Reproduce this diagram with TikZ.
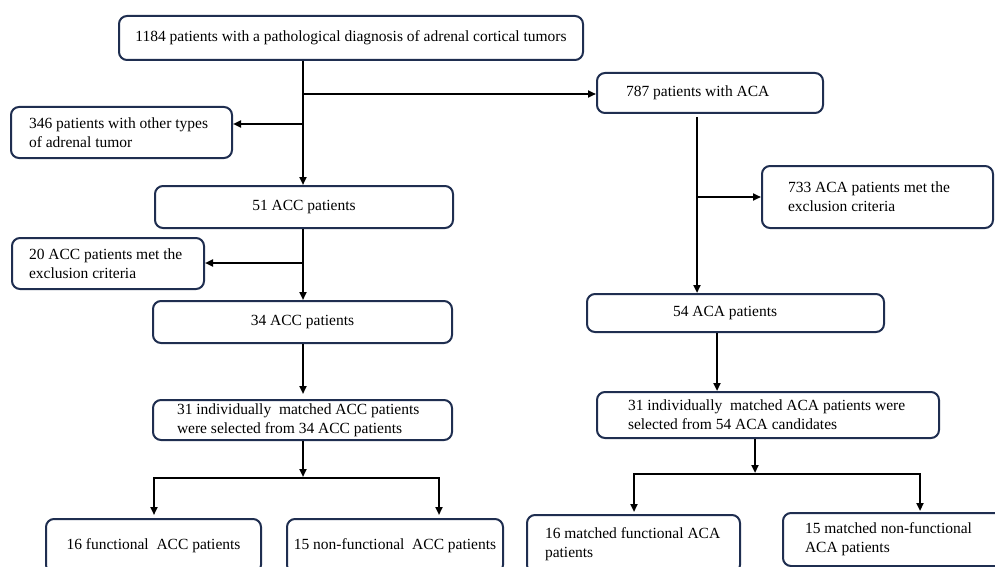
\documentclass[tikz,border=0pt]{standalone}
\usepackage{fontspec}
\setmainfont{Liberation Serif}
\usetikzlibrary{arrows.meta}
\definecolor{boxblue}{RGB}{31,46,80}
\begin{document}
\begin{tikzpicture}[x=1pt,y=-1pt,
  box/.style={draw=boxblue, line width=2pt, rounded corners=8pt, fill=white,
    inner ysep=0pt, font=\fontsize{15.5}{19}\selectfont},
  cbox/.style={box, align=center, inner xsep=0pt},
  lbox/.style={box, align=left, execute at begin node={\spaceskip=0pt\xspaceskip=0pt\relax}},
  arr/.style={line width=2pt, -{Triangle[length=8pt,width=7pt]}},
  ln/.style={line width=2pt}]
\useasboundingbox (0,0) rectangle (995,567);
\clip (0,0) rectangle (995,567);

% nodes
\node[cbox, minimum width=464, minimum height=44] (top) at (351,38)
  {1184 patients with a pathological diagnosis of adrenal cortical tumors};
\node[lbox, minimum width=221, minimum height=51, inner xsep=18, text width=185] (b346) at (121.5,132.5)
  {346 patients with other types\\of adrenal tumor};
\node[lbox, minimum width=226, minimum height=40, inner xsep=29, text width=168] (b787) at (710,93)
  {787 patients with ACA};
\node[cbox, minimum width=298, minimum height=42] (b51) at (304,207) {51 ACC patients};
\node[lbox, minimum width=192, minimum height=51, inner xsep=17, text width=158] (b20) at (108,263.5)
  {20 ACC patients met the\\exclusion criteria};
\node[lbox, minimum width=231, minimum height=62, inner xsep=26, text width=179] (b733) at (877.5,197)
  {733 ACA patients met the\\exclusion criteria};
\node[cbox, minimum width=299, minimum height=42] (b34) at (302.5,322) {34 ACC patients};
\node[lbox, minimum width=297, minimum height=38, inner xsep=86, text width=125] (b54) at (735.5,313)
  {54 ACA patients};
\node[lbox, minimum width=299, minimum height=40, inner xsep=24, text width=251] (b31acc) at (302.5,420)
  {31 individually\ \ matched ACC patients\\were selected from 34 ACC patients};
\node[lbox, minimum width=342, minimum height=46, inner xsep=31, text width=280] (b31aca) at (768,415)
  {31 individually\ \ matched ACA patients were\\selected from 54 ACA candidates};
\node[cbox, minimum width=215, minimum height=54] (b16acc) at (153.5,546) {16 functional\ \ ACC patients};
\node[cbox, minimum width=216, minimum height=54] (b15acc) at (395,546) {15 non-functional\ \ ACC patients};
\node[lbox, minimum width=213, minimum height=58, inner xsep=18, text width=177] (b16aca) at (633.5,544)
  {16 matched functional ACA\\patients};
\node[lbox, minimum width=235, minimum height=53, inner xsep=22, text width=191] (b15aca) at (900.5,539.5)
  {15 matched non-functional\\ACA patients};

% left (ACC) branch
\coordinate (jL1) at (303,94);
\coordinate (jL2) at (303,124);
\coordinate (jL3) at (303,263);
\draw[arr] (top.south -| jL1) -- (b51.north -| jL1);
\draw[arr] (jL1) -- (b787.west |- jL1);
\draw[arr] (jL2) -- (b346.east |- jL2);
\draw[arr] (b51.south -| jL3) -- (b34.north -| jL3);
\draw[arr] (jL3) -- (b20.east |- jL3);
\draw[arr, shorten >=5pt] (b34.south -| jL3) -- (b31acc.north -| jL3);

\coordinate (sL) at (303,478);
\coordinate (sLa) at (154,478);
\coordinate (sLb) at (439,478);
\draw[arr, shorten >=1pt] (b31acc.south -| sL) -- (sL);
\draw[arr, shorten >=3pt] (sL) -| (sLa |- b16acc.north);
\draw[arr, shorten >=3pt] (sL) -| (sLb |- b15acc.north);

% right (ACA) branch
\coordinate (jR) at (697,197);
\coordinate (jR2) at (717,0);
\draw[arr, shorten <=3pt] (b787.south -| jR) -- (b54.north -| jR);
\draw[arr] (jR) -- (b733.west |- jR);
\draw[arr] (b54.south -| jR2) -- (b31aca.north -| jR2);

\coordinate (sR) at (755,474);
\coordinate (sRa) at (634,474);
\coordinate (sRb) at (920,474);
\draw[arr, shorten >=1pt] (b31aca.south -| sR) -- (sR);
\draw[arr, shorten >=2pt] (sR) -| (sRa |- b16aca.north);
\draw[arr, shorten >=1pt] (sR) -| (sRb |- b15aca.north);
\end{tikzpicture}
\end{document}
